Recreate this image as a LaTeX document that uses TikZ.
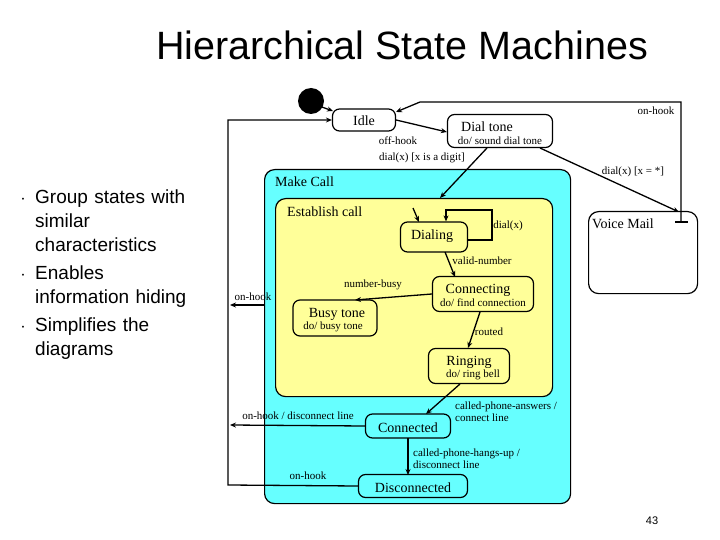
\documentclass[tikz,border=0pt]{standalone}
\usepackage{fontspec}
\setmainfont{Liberation Serif}
\newfontfamily\sans{Liberation Sans}
\usetikzlibrary{arrows.meta}
\definecolor{cy}{HTML}{66FFFF}
\definecolor{yl}{HTML}{FFFF99}
\begin{document}
\begin{tikzpicture}[x=1pt,y=-1pt,
  st/.style={draw,line width=1.2pt,rounded corners=7pt},
  lbl/.style={font=\fontsize{11}{12}\selectfont,inner sep=0pt},
  nm/.style={font=\fontsize{14}{15}\selectfont,inner sep=0pt},
  ar/.style={line width=1.3pt,-{Stealth[length=6pt,width=5pt]}},
  ln/.style={line width=1.3pt}]
\useasboundingbox (0,0) rectangle (720,540);
\node[font=\sans\fontsize{39.5}{42}\selectfont] (title) at (402,45) {Hierarchical State Machines};
\node[font=\sans\fontsize{19}{24}\selectfont,anchor=north west,align=left,text width=175pt,inner sep=0pt] (bul) at (20,179) {%
\begin{list}{\raisebox{2pt}{\fontsize{7}{7}\selectfont\textbullet}}{\leftmargin=15pt\labelwidth=5pt\labelsep=11pt\itemsep=4pt\parsep=0pt\topsep=0pt}
\item Group states with similar characteristics
\item Enables information hiding
\item Simplifies the diagrams
\end{list}};
% containers
\node[st,fill=cy,rounded corners=10pt,minimum width=306pt,minimum height=334pt,anchor=north west] (mc) at (264,169) {};
\node[lbl,font=\fontsize{14}{15}\selectfont,anchor=west] (mcl) at (275,182) {Make Call};
\node[st,fill=yl,rounded corners=10pt,minimum width=277pt,minimum height=198pt,anchor=north west] (ec) at (275,198) {};
\node[nm,anchor=west] (ecl) at (287,212) {Establish call};
\node[st,fill=white,rounded corners=10pt,minimum width=109pt,minimum height=82pt,anchor=north west] (vm) at (588,211) {};
\node[nm,anchor=west] (vml) at (592,224) {Voice Mail};
% states
\fill (311,101) circle (13pt) coordinate (init);
\node[st,fill=white,minimum width=63pt,minimum height=22pt] (idle) at (364,120) {};
\node[nm] at (364,121) {Idle};
\node[st,fill=white,minimum width=105pt,minimum height=33pt] (dt) at (500,131) {};
\node[nm] at (487,127) {Dial tone};
\node[lbl] at (500,141) {do/ sound dial tone};
\node[st,fill=yl,minimum width=67pt,minimum height=30pt] (dial) at (434,237) {};
\node[nm] at (432,236) {Dialing};
\node[st,fill=yl,minimum width=101pt,minimum height=35pt] (conn) at (483,294) {};
\node[nm] at (478,290) {Connecting};
\node[lbl] at (483,303) {do/ find connection};
\node[st,fill=yl,minimum width=84pt,minimum height=36pt] (busy) at (335,318) {};
\node[nm] at (337,314) {Busy tone};
\node[lbl] at (333,327) {do/ busy tone};
\node[st,fill=yl,minimum width=81pt,minimum height=35pt] (ring) at (469,366) {};
\node[nm] at (469,362) {Ringing};
\node[lbl] at (473,375) {do/ ring bell};
\node[st,fill=cy,minimum width=85pt,minimum height=24pt] (cd) at (408,426) {};
\node[nm] at (408,428) {Connected};
\node[st,fill=cy,minimum width=109pt,minimum height=23pt] (dc) at (413,486) {};
\node[nm] at (413,488) {Disconnected};
% connectors
\coordinate (L1) at (228,120); \coordinate (L2) at (228,485);
\draw[ar] (dc.west) -- (L2) -- (L1) -- (idle.west);
\node[lbl] at (308,476) {on-hook};
\draw[ar] (319,106) -- (333,111);
\draw[ar] (idle.east) -- (dt.west |- 0,132);
\node[lbl] at (398,141) {off-hook};
\draw[ar] (487,148) -- (440,198);
\node[lbl] at (422,158) {dial(x) [x is a digit]};
\draw[ar] (540,148) -- (679,212);
\node[lbl] at (633,172) {dial(x) [x = *]};
\coordinate (T1) at (681,222); \coordinate (T2) at (681,102); \coordinate (T3) at (420,102);
\draw[ar] (T1) -- (T2) -- (T3) -- (396,112);
\draw[ln] (675,222) -- (688,222);
\node[lbl] at (656,111) {on-hook};
\draw[ar] (413,208) -- (419,222);
\coordinate (S1) at (492,240); \coordinate (S2) at (492,210); \coordinate (S3) at (446,210);
\draw[ar] (dial.east |- S1) -- (S1) -- (S2) -- (S3) -- (S3 |- dial.north);
\node[lbl] at (508,226) {dial(x)};
\draw[ar] (445,252) -- (455,277);
\node[lbl] at (482,261) {valid-number};
\draw[ar] (conn.west) -- (355,300);
\node[lbl] at (373,285) {number-busy};
\coordinate (OH1) at (230,305);
\draw[ar] (mc.west |- OH1) -- (OH1);
\node[lbl] at (253,297) {on-hook};
\draw[ar] (480,312) -- (468,348);
\node[lbl] at (489,332) {routed};
\draw[ar] (460,384) -- (426,414);
\node[lbl,anchor=west,align=left] at (455,412) {called-phone-answers /\\connect line};
\coordinate (OH2) at (230,425);
\draw[ar] (cd.west) -- (OH2);
\node[lbl] at (298,416) {on-hook / disconnect line};
\draw[ar] (408,438) -- (408,475);
\node[lbl,anchor=west,align=left] at (413,459) {called-phone-hangs-up /\\disconnect line};
\node[font=\sans\fontsize{11}{12}\selectfont] (pg) at (652,521) {43};
\end{tikzpicture}
\end{document}
